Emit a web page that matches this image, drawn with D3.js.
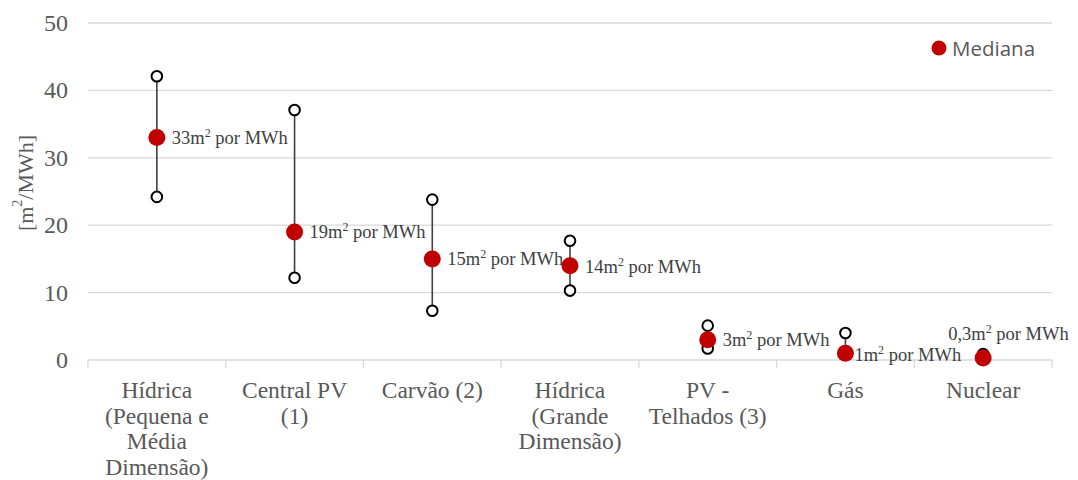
<!DOCTYPE html>
<meta charset="utf-8">
<style>
body { margin: 0; background: #fff; }
.grid line { stroke: #d9d9d9; stroke-width: 1.3px; }
.serif { font-family: 'Liberation Serif', Tinos, 'Times New Roman', Times, 'DejaVu Serif', serif; }
.tick-y { font-size: 24px; fill: #595959; }
.cat { font-size: 23.5px; fill: #595959; }
.lbl { font-size: 18.5px; fill: #404040; }
.range { stroke: #404040; stroke-width: 1.6px; }
.end { fill: #fff; stroke: #000; stroke-width: 2px; }
.med { fill: #c00000; }
</style>
<svg width="1078" height="480"></svg>
<script src="https://d3js.org/d3.v7.min.js"></script>
<script>

const categories = [
  ["Hídrica", "(Pequena e", "Média", "Dimensão)"],
  ["Central PV", "(1)"],
  ["Carvão (2)"],
  ["Hídrica", "(Grande", "Dimensão)"],
  ["PV -", "Telhados (3)"],
  ["Gás"],
  ["Nuclear"]
];
const minValues = [24.2, 12.2, 7.3, 10.3, 1.7, 1.0, 0.5];
const maxValues = [42.1, 37.1, 23.8, 17.7, 5.1, 4.0, 0.9];
const medians = [33, 19, 15, 14, 3, 1, 0.3];
const medianLabels = ["33", "19", "15", "14", "3", "1", "0,3"];
const yTicks = [0, 10, 20, 30, 40, 50];

// label placement (dx from the point, dy from the point)
const labelOffset = [[15, 0], [15, 0], [15, 0], [15, 1], [15, 0], [9, 2], [-35, -24]];

const svg = d3.select("svg");
const plotLeft = 88, plotRight = 1052, plotTop = 23, plotBottom = 360;

const x = d3.scaleBand().domain(d3.range(categories.length)).range([plotLeft, plotRight]);
const y = d3.scaleLinear().domain([0, 50]).range([plotBottom, plotTop]);
const cx = i => x(i) + x.bandwidth() / 2;

// gridlines
svg.append("g").attr("class", "grid")
  .selectAll("line").data(yTicks).join("line")
  .attr("x1", plotLeft).attr("x2", plotRight)
  .attr("y1", d => y(d)).attr("y2", d => y(d));

// x tick marks between categories
svg.append("g").selectAll("line").data(d3.range(categories.length + 1)).join("line")
  .attr("x1", i => plotLeft + i * x.bandwidth()).attr("x2", i => plotLeft + i * x.bandwidth())
  .attr("y1", plotBottom).attr("y2", plotBottom + 8)
  .attr("stroke", "#d9d9d9").attr("stroke-width", 1.3);

// y tick labels
svg.append("g").selectAll("text").data(yTicks).join("text")
  .attr("class", "tick-y serif")
  .attr("x", 68).attr("y", d => y(d))
  .attr("text-anchor", "end").attr("dominant-baseline", "central")
  .text(d => d);

// y title
const yt = svg.append("text").attr("class", "tick-y serif")
  .attr("transform", "translate(25,183) rotate(-90)")
  .attr("text-anchor", "middle").attr("dominant-baseline", "central")
  .style("font-size", "22px");
yt.append("tspan").text("[m");
yt.append("tspan").attr("dy", -8).style("font-size", "14px").text("2");
yt.append("tspan").attr("dy", 8).text("/MWh]");

// category labels
svg.append("g").selectAll("text").data(categories).join("text")
  .attr("class", "cat serif")
  .attr("text-anchor", "middle")
  .each(function(lines, i) {
    d3.select(this).selectAll("tspan").data(lines).join("tspan")
      .attr("x", cx(i)).attr("y", (d, j) => 390 + j * 25.5)
      .attr("dominant-baseline", "central")
      .text(d => d);
  });

// ranges
svg.append("g").selectAll("line").data(medians).join("line")
  .attr("class", "range")
  .attr("x1", (d, i) => cx(i)).attr("x2", (d, i) => cx(i))
  .attr("y1", (d, i) => y(minValues[i])).attr("y2", (d, i) => y(maxValues[i]));

svg.append("g").selectAll("circle").data(minValues.concat(maxValues)).join("circle")
  .attr("class", "end")
  .attr("cx", (d, i) => cx(i % categories.length))
  .attr("cy", d => y(d))
  .attr("r", 5.3);

svg.append("g").selectAll("circle").data(medians).join("circle")
  .attr("class", "med")
  .attr("cx", (d, i) => cx(i)).attr("cy", d => y(d))
  .attr("r", 8.5);

// median labels
svg.append("g").selectAll("text").data(medians).join("text")
  .attr("class", "lbl serif")
  .attr("x", (d, i) => cx(i) + labelOffset[i][0])
  .attr("y", (d, i) => y(d) + labelOffset[i][1] + 6)
  .each(function(d, i) {
    const t = d3.select(this);
    t.append("tspan").text(medianLabels[i] + "m");
    t.append("tspan").attr("dy", -7).style("font-size", "12px").text("2");
    t.append("tspan").attr("dy", 7).text(" por MWh");
  });

// legend
svg.append("circle").attr("cx", 939).attr("cy", 48).attr("r", 7.5).attr("class", "med");
svg.append("text").attr("x", 952).attr("y", 48)
  .attr("dominant-baseline", "central")
  .style("font-family", "'Open Sans', 'Noto Sans', sans-serif")
  .style("font-size", "20.5px").style("fill", "#595959")
  .text("Mediana");

</script>
